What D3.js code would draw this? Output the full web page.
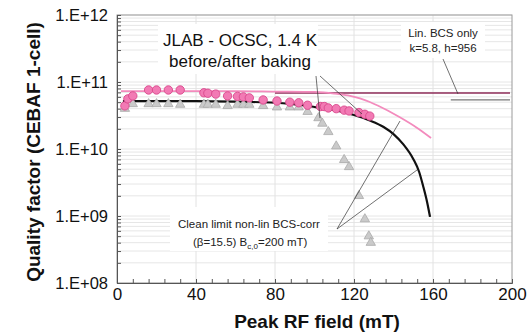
<!DOCTYPE html>
<html>
<head>
<meta charset="utf-8">
<script src="https://cdn.jsdelivr.net/npm/d3@7"></script>
<style>
  body { margin: 0; background: #fff; }
  svg { display: block; font-family: "Liberation Sans", Arial, sans-serif; }
</style>
</head>
<body>
<script>
var width = 529, height = 333;
var margin = { left: 117, right: 17, top: 15, bottom: 50 };

// before baking (grey triangles)
var beforeField = [4, 8, 16, 20, 26, 32, 44, 46, 50, 56, 61, 64, 67, 74, 81, 87.5, 92, 96.5, 102, 104, 107, 111, 115, 117.5, 122.5, 125.5, 127.5, 128.5];
var beforeQ = [4.0e10, 4.7e10, 4.7e10, 4.7e10, 4.7e10, 4.6e10, 4.6e10, 4.6e10, 4.6e10, 4.4e10, 4.6e10, 4.6e10, 4.6e10, 4.4e10, 4.2e10, 4.2e10, 4.2e10, 3.6e10, 2.9e10, 2.4e10, 1.8e10, 1.1e10, 6.9e9, 5.4e9, 2.0e9, 9.0e8, 5.0e8, 4.0e8];

// after baking (pink circles)
var afterField = [4, 5.5, 8, 16, 20, 26, 32, 44, 46, 50, 56, 61, 64, 67, 74, 81, 87.5, 92, 96.5, 103, 105, 107, 111, 115, 117.5, 122.5, 125.5, 128];
var afterQ = [4.4e10, 5.6e10, 6.2e10, 7.6e10, 7.6e10, 7.6e10, 7.6e10, 6.9e10, 6.8e10, 6.6e10, 6.2e10, 6.1e10, 6.0e10, 5.8e10, 5.4e10, 5.2e10, 5.0e10, 4.9e10, 4.5e10, 4.3e10, 4.3e10, 4.1e10, 4.0e10, 3.8e10, 3.7e10, 3.5e10, 3.3e10, 3.1e10];

// non-lin BCS-corr fits
var fitBeforeField = [3, 40, 60, 80, 95, 100, 110, 120, 128, 135, 140, 145, 150, 153, 155, 157, 158.5];
var fitBeforeQ = [5.2e10, 5.2e10, 5.1e10, 4.9e10, 4.46e10, 4.24e10, 3.82e10, 3.21e10, 2.66e10, 2.13e10, 1.67e10, 1.17e10, 7.1e9, 4.54e9, 2.8e9, 1.62e9, 9.7e8];
var fitAfterField = [2, 60, 80, 100, 110, 117, 123, 128, 132, 143, 152, 159];
var fitAfterQ = [7.3e10, 7.3e10, 7.2e10, 7.1e10, 6.73e10, 6.29e10, 5.68e10, 5.03e10, 4.45e10, 3.0e10, 2.06e10, 1.46e10];

// lin. BCS only levels
var linField = [[80, 199], [169, 199]];
var linQ = [6.85e10, 5.4e10];

var xTicks = [0, 40, 80, 120, 160, 200];
var yTicks = [1e8, 1e9, 1e10, 1e11, 1e12];

var svg = d3.select("body").append("svg")
  .attr("width", width)
  .attr("height", height);

var x = d3.scaleLinear().domain([0, 200]).range([margin.left, width - margin.right]);
var y = d3.scaleLog().domain([1e8, 1e12]).range([height - margin.bottom, margin.top]);

// minor log values
var minorY = [];
for (var e = 8; e < 12; e++) {
  for (var m = 1; m < 10; m++) minorY.push(m * Math.pow(10, e));
}
minorY.push(1e12);

// gridlines
svg.append("g").selectAll("line").data(minorY).enter().append("line")
  .attr("x1", x(0)).attr("x2", x(200))
  .attr("y1", function(d) { return y(d); }).attr("y2", function(d) { return y(d); })
  .attr("stroke", "#e6e6e6").attr("stroke-width", 1);
svg.append("g").selectAll("line").data([40, 80, 120, 160]).enter().append("line")
  .attr("x1", function(d) { return x(d); }).attr("x2", function(d) { return x(d); })
  .attr("y1", y(1e8)).attr("y2", y(1e12))
  .attr("stroke", "#e2e2e2").attr("stroke-width", 1);

// white boxes behind the annotations
var boxes = [[158, 24, 160, 50], [170, 207, 158, 44], [401, 22, 84, 36]];
svg.append("g").selectAll("rect").data(boxes).enter().append("rect")
  .attr("x", function(d) { return d[0]; }).attr("y", function(d) { return d[1]; })
  .attr("width", function(d) { return d[2]; }).attr("height", function(d) { return d[3]; })
  .attr("fill", "#fff");

// plot frame
svg.append("rect")
  .attr("x", x(0)).attr("y", y(1e12))
  .attr("width", x(200) - x(0)).attr("height", y(1e8) - y(1e12))
  .attr("fill", "none").attr("stroke", "#9a9a9a");

// axes
var xMinor = d3.range(0, 201, 8);
svg.append("g")
  .attr("transform", "translate(0," + y(1e8) + ")")
  .call(d3.axisBottom(x).tickValues(xMinor).tickSize(-4).tickFormat(""))
  .call(function(g) { g.selectAll("line").attr("stroke", "#555"); g.select(".domain").attr("stroke", "#555"); });
svg.append("g")
  .attr("transform", "translate(0," + y(1e8) + ")")
  .call(d3.axisBottom(x).tickValues(xTicks).tickSize(0).tickPadding(5).tickFormat(d3.format("d")))
  .call(function(g) {
    g.select(".domain").remove();
    g.selectAll("text").attr("font-size", 17).attr("fill", "#111")
      .attr("font-family", "'Liberation Sans', Arial, sans-serif");
  });

svg.append("g")
  .attr("transform", "translate(" + x(0) + ",0)")
  .call(d3.axisLeft(y).tickValues(minorY).tickSize(-4).tickFormat(""))
  .call(function(g) { g.selectAll("line").attr("stroke", "#555"); g.select(".domain").attr("stroke", "#555"); });
svg.append("g")
  .attr("transform", "translate(" + x(0) + ",0)")
  .call(d3.axisLeft(y).tickValues(yTicks).tickSize(0).tickPadding(9)
    .tickFormat(function(d) { return "1.E+" + String(Math.round(Math.log10(d))).padStart(2, "0"); }))
  .call(function(g) {
    g.select(".domain").remove();
    g.selectAll("text").attr("font-size", 16.5).attr("fill", "#111")
      .attr("font-family", "'Liberation Sans', Arial, sans-serif");
  });

// axis titles
svg.append("text")
  .attr("x", 317).attr("y", 328)
  .attr("text-anchor", "middle")
  .attr("font-size", 19).attr("font-weight", "bold").attr("fill", "#111")
  .text("Peak RF field (mT)");
svg.append("text")
  .attr("transform", "translate(40,152) rotate(-90)")
  .attr("text-anchor", "middle")
  .attr("font-size", 19).attr("font-weight", "bold").attr("fill", "#111")
  .text("Quality factor (CEBAF 1-cell)");

// lin BCS only lines
var linColors = ["#8e2c58", "#777"];
svg.append("g").selectAll("line").data(linQ).enter().append("line")
  .attr("x1", function(d, i) { return x(linField[i][0]); })
  .attr("x2", function(d, i) { return x(linField[i][1]); })
  .attr("y1", function(d) { return y(d); }).attr("y2", function(d) { return y(d); })
  .attr("stroke", function(d, i) { return linColors[i]; }).attr("stroke-width", 1.3);

var line = d3.line()
  .x(function(d) { return x(d[0]); })
  .y(function(d) { return y(d[1]); })
  .curve(d3.curveMonotoneX);

svg.append("path")
  .datum(d3.zip(fitAfterField, fitAfterQ))
  .attr("d", line).attr("fill", "none")
  .attr("stroke", "#f38bbd").attr("stroke-width", 1.8);
svg.append("path")
  .datum(d3.zip(fitBeforeField, fitBeforeQ))
  .attr("d", line).attr("fill", "none")
  .attr("stroke", "#111").attr("stroke-width", 2.2);

// markers
var tri = d3.symbol().type(d3.symbolTriangle).size(38);
svg.append("g").selectAll("path").data(d3.zip(beforeField, beforeQ)).enter().append("path")
  .attr("d", tri)
  .attr("transform", function(d) { return "translate(" + x(d[0]) + "," + y(d[1]) + ")"; })
  .attr("fill", "#cacaca").attr("stroke", "#a9a9a9").attr("stroke-width", 0.8);

svg.append("g").selectAll("circle").data(d3.zip(afterField, afterQ)).enter().append("circle")
  .attr("cx", function(d) { return x(d[0]); })
  .attr("cy", function(d) { return y(d[1]); })
  .attr("r", 4.2)
  .attr("fill", "#f27ab4").attr("stroke", "#d9488c").attr("stroke-width", 0.9);

// annotations
var callouts = [
  [316, 76, 320, 118], [320, 76, 362, 114],
  [443, 59, 458, 94],
  [337, 229, 400, 121], [337, 229, 417, 170]
];
svg.append("g").selectAll("line").data(callouts).enter().append("line")
  .attr("x1", function(d) { return d[0]; }).attr("y1", function(d) { return d[1]; })
  .attr("x2", function(d) { return d[2]; }).attr("y2", function(d) { return d[3]; })
  .attr("stroke", "#333").attr("stroke-width", 0.7);

var title = svg.append("text").attr("text-anchor", "middle").attr("fill", "#111").attr("font-size", 17);
title.append("tspan").attr("x", 240).attr("y", 46).text("JLAB - OCSC, 1.4 K");
title.append("tspan").attr("x", 240).attr("y", 67).text("before/after baking");

var lin = svg.append("text").attr("text-anchor", "middle").attr("fill", "#222").attr("font-size", 11.5);
lin.append("tspan").attr("x", 443).attr("y", 37).text("Lin. BCS only");
lin.append("tspan").attr("x", 443).attr("y", 52).text("k=5.8, h=956");

var clean = svg.append("text").attr("fill", "#222").attr("font-size", 11.5);
clean.append("tspan").attr("x", 178).attr("y", 228).text("Clean limit non-lin BCS-corr");
var l2 = svg.append("text").attr("fill", "#222").attr("font-size", 11.5).attr("x", 193).attr("y", 246);
l2.append("tspan").text("(\u03b2=15.5) B");
l2.append("tspan").attr("font-size", 8).attr("dy", 3).text("c,0");
l2.append("tspan").attr("dy", -3).text("=200 mT)");
</script>
</body>
</html>
